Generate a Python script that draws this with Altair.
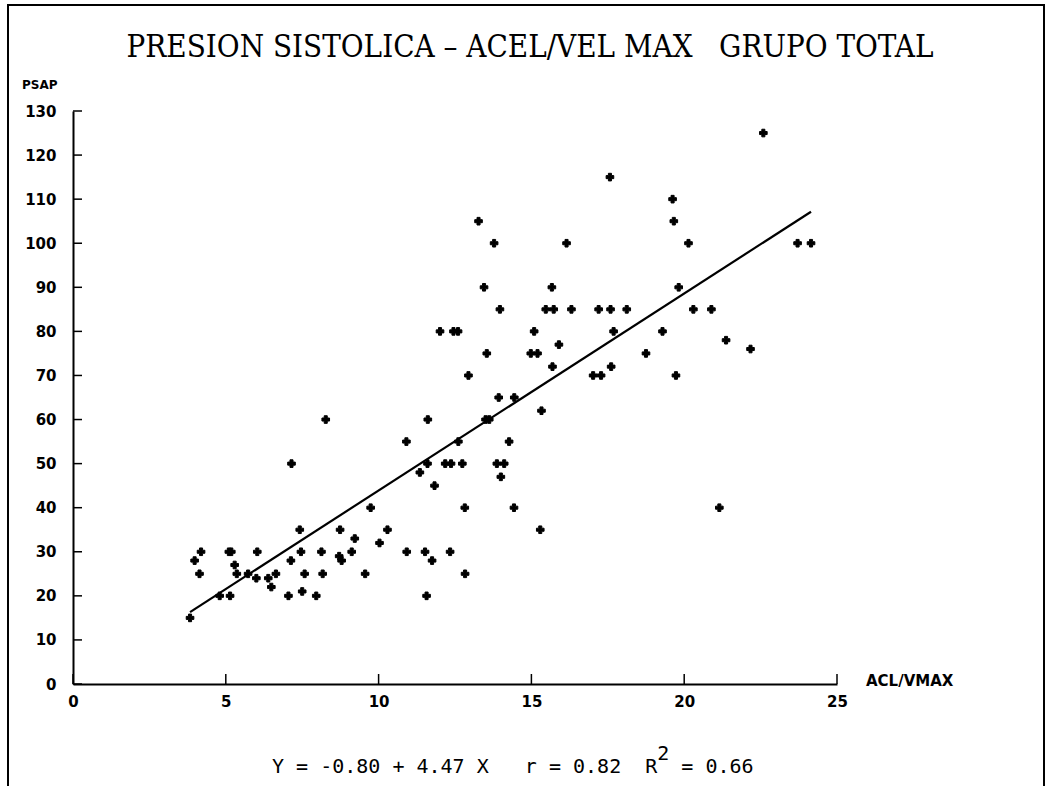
import altair as alt
import pandas as pd

# Aceleración / velocidad máxima (ACL/VMAX) y presión sistólica (PSAP), grupo total
acl_vmax = [
    3.83, 3.98, 4.19, 4.14, 4.80, 5.14, 5.10, 5.18, 5.29, 5.36,
    5.73, 6.03, 6.00, 6.39, 6.49, 6.64, 7.05, 7.15, 7.13, 7.42,
    7.46, 7.50, 7.58, 7.96, 8.13, 8.17, 8.27, 8.71, 8.74, 8.79,
    9.12, 9.22, 9.56, 9.74, 10.03, 10.29, 10.91, 10.92, 11.35, 11.61,
    11.60, 11.52, 11.57, 11.75, 11.83, 12.18, 12.37, 12.74, 12.61, 12.34,
    12.82, 12.83, 13.27, 13.78, 16.15, 19.62, 19.66, 20.14, 13.45, 15.67,
    19.82, 13.97, 15.47, 15.73, 16.31, 17.20, 17.59, 18.12, 20.30, 20.89,
    12.01, 12.45, 12.60, 15.09, 17.69, 19.29, 15.90, 21.37, 13.54, 14.98,
    15.20, 18.75, 22.17, 15.69, 17.61, 12.94, 17.02, 17.28, 19.73, 13.93,
    14.44, 15.33, 13.50, 13.62, 14.27, 13.87, 14.11, 14.00, 14.43, 15.29,
    21.15, 22.59, 17.57, 23.71, 24.15,
]
psap = [
    15, 28, 30, 25, 20, 20, 30, 30, 27, 25,
    25, 30, 24, 24, 22, 25, 20, 50, 28, 35,
    30, 21, 25, 20, 30, 25, 60, 29, 35, 28,
    30, 33, 25, 40, 32, 35, 55, 30, 48, 60,
    50, 30, 20, 28, 45, 50, 50, 50, 55, 30,
    40, 25, 105, 100, 100, 110, 105, 100, 90, 90,
    90, 85, 85, 85, 85, 85, 85, 85, 85, 85,
    80, 80, 80, 80, 80, 80, 77, 78, 75, 75,
    75, 75, 76, 72, 72, 70, 70, 70, 70, 65,
    65, 62, 60, 60, 55, 50, 50, 47, 40, 35,
    40, 125, 115, 100, 100,
]

# Recta de regresión publicada: Y = -0.80 + 4.47 X
intercept = -0.80
slope = 4.47
r_value = 0.82
r_squared = 0.66

x_ticks = [0, 5, 10, 15, 20, 25]
y_ticks = [0, 10, 20, 30, 40, 50, 60, 70, 80, 90, 100, 110, 120, 130]

NBSP = "\u00a0"
title_text = f"PRESION SISTOLICA \u2013 ACEL/VEL MAX{NBSP * 3}GRUPO TOTAL"
y_label = "PSAP"
x_label = "ACL/VMAX"

W, H = 764, 573
LEFT, TOP = 73, 111

points = pd.DataFrame({"acl": acl_vmax, "psap": psap})
x_lo, x_hi = min(acl_vmax), max(acl_vmax)
fit = pd.DataFrame({
    "acl": [x_lo, x_hi],
    "psap": [intercept + slope * x_lo, intercept + slope * x_hi],
})

x_scale = alt.Scale(domain=[0, 25], nice=False, zero=False)
y_scale = alt.Scale(domain=[0, 130], nice=False, zero=False)

label_font = "DejaVu Sans"

x_axis = alt.Axis(
    values=x_ticks, ticks=False, grid=False, title=None,
    domainColor="black", domainWidth=2,
    labelFont=label_font, labelFontWeight="bold", labelFontSize=15,
    labelColor="black", labelPadding=10, labelFlush=False,
)
y_axis = alt.Axis(
    values=y_ticks, ticks=False, grid=False, title=None,
    domainColor="black", domainWidth=2,
    labelFont=label_font, labelFontWeight="bold", labelFontSize=15,
    labelColor="black", labelPadding=17,
)

scatter = alt.Chart(points).mark_point(
    shape="cross", filled=True, size=58, color="black",
    stroke="black", strokeWidth=1, opacity=1,
).encode(
    x=alt.X("acl:Q", scale=x_scale, axis=x_axis),
    y=alt.Y("psap:Q", scale=y_scale, axis=y_axis),
)

line = alt.Chart(fit).mark_line(color="black", strokeWidth=2.2).encode(
    x=alt.X("acl:Q", scale=x_scale),
    y=alt.Y("psap:Q", scale=y_scale),
)

# Marcas de escala hacia el interior del área del gráfico
y_tick_marks = alt.Chart(pd.DataFrame({"v": y_ticks})).mark_rule(
    color="black", strokeWidth=1.5
).encode(
    y=alt.Y("v:Q", scale=y_scale),
    x=alt.value(0), x2=alt.value(9),
)
x_tick_marks = alt.Chart(pd.DataFrame({"v": x_ticks})).mark_rule(
    color="black", strokeWidth=1.5
).encode(
    x=alt.X("v:Q", scale=x_scale),
    y=alt.value(H), y2=alt.value(H - 10),
)


def label(text, px, py, **kw):
    return alt.Chart(pd.DataFrame({"t": [text]})).mark_text(**kw).encode(
        text="t:N", x=alt.value(px), y=alt.value(py)
    )


title = label(
    title_text, 530 - LEFT, 48 - TOP,
    font="DejaVu Serif Condensed", fontSize=31, color="black",
    align="center", baseline="middle",
)
psap_label = label(
    y_label, 22 - LEFT, 85 - TOP,
    font=label_font, fontWeight="bold", fontSize=12, color="black",
    align="left", baseline="middle",
)
acl_label = label(
    x_label, 866 - LEFT, 681 - TOP,
    font=label_font, fontWeight="bold", fontSize=15, color="black",
    align="left", baseline="middle",
)

# Ecuación de la recta, con el exponente de R dibujado en alto
EQ_SIZE = 20
CHAR_W = 0.602 * EQ_SIZE
EQ_X0, EQ_Y = 272, 767
eq_font = dict(font="DejaVu Sans Mono", fontSize=EQ_SIZE, color="black",
               baseline="middle", align="left")
eq_head = f"Y = {intercept:.2f} + {slope:.2f} X{NBSP * 3}r = {r_value:.2f}{NBSP * 2}R"
eq_main = label(eq_head, EQ_X0 - LEFT, EQ_Y - TOP, **eq_font)
eq_sup = label("2", EQ_X0 + len(eq_head) * CHAR_W - LEFT, EQ_Y - 13 - TOP, **eq_font)
eq_tail = label(f"= {r_squared:.2f}", EQ_X0 + (len(eq_head) + 2) * CHAR_W - LEFT,
                EQ_Y - TOP, **eq_font)

frame = alt.Chart(pd.DataFrame({"t": [0]})).mark_rect(
    fillOpacity=0, stroke="black", strokeWidth=2
).encode(
    x=alt.value(8 - LEFT), x2=alt.value(1044 - LEFT),
    y=alt.value(5 - TOP), y2=alt.value(800 - TOP),
)

chart = alt.layer(
    frame, line, scatter, y_tick_marks, x_tick_marks,
    title, psap_label, acl_label, eq_main, eq_sup, eq_tail,
).properties(
    width=W, height=H,
    autosize=alt.AutoSizeParams(type="none"),
    padding={"left": LEFT, "top": TOP, "right": 1052 - LEFT - W, "bottom": 786 - TOP - H},
    background="white",
).configure_view(stroke=None)

chart.save("out.html", embed_options={"renderer": "svg", "actions": False})
